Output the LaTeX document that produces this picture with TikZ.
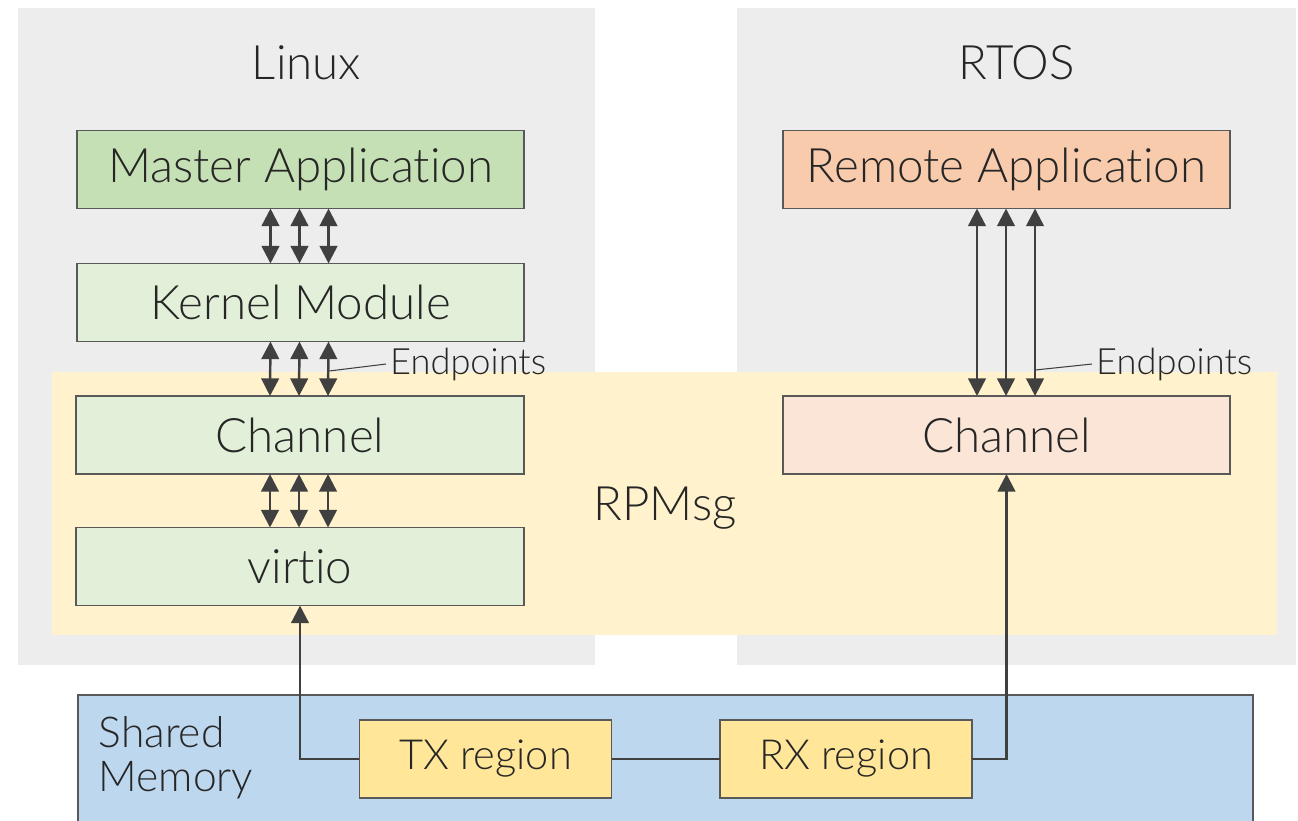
\documentclass[tikz,border=0pt]{standalone}
\usepackage{fontspec}
\setmainfont{Lato Light}[Ligatures={NoCommon,NoRare,NoContextual}, Contextuals=NoAlternate]
\usetikzlibrary{arrows.meta}
\definecolor{greybg}{HTML}{EDEDED}
\definecolor{rpm}{HTML}{FFF2CC}
\definecolor{green1}{HTML}{C5E0B4}
\definecolor{green2}{HTML}{E2F0D9}
\definecolor{orange1}{HTML}{F8CBAD}
\definecolor{orange2}{HTML}{FBE5D6}
\definecolor{shm}{HTML}{BDD7EE}
\definecolor{reg}{HTML}{FFE699}
\definecolor{edge}{HTML}{595959}
\definecolor{ink}{HTML}{404040}
\definecolor{txt}{HTML}{262626}
\begin{document}
\begin{tikzpicture}[x=0.01cm,y=-0.01cm,
 big/.style={font=\fontsize{13.5}{13.5}\selectfont, text=txt},
 small/.style={font=\fontsize{10.3}{12}\selectfont, text=txt, inner sep=1pt},
 box/.style={big, draw=edge, line width=0.5pt, inner sep=0pt, outer sep=0pt, minimum width=4.47cm, minimum height=0.78cm},
 regbox/.style={box, fill=reg, minimum width=2.52cm, font=\fontsize{11.8}{12}\selectfont},
 dar/.style={{Triangle[length=5pt,width=5pt]}-{Triangle[length=5pt,width=5pt]}, draw=ink, line width=0.7pt},
 sar/.style={-{Triangle[length=5pt,width=5pt]}, draw=ink, line width=0.7pt},
 conn/.style={draw=ink, line width=0.7pt},
 lead/.style={draw=ink, line width=0.3pt}]
\useasboundingbox (0,0) rectangle (1298,820);
\clip (0,0) rectangle (1298,820);
\fill[white] (0,0) rectangle (1298,820);
% backgrounds
\fill[greybg] (18,8) rectangle (595,665);
\fill[greybg] (737,8) rectangle (1296,665);
\fill[rpm] (52,372) rectangle (1277,635);
\draw[draw=edge, fill=shm, line width=0.5pt] (78,695) rectangle (1253,835);
% titles
\node[big] (linux) at (306.5,63) {Linux};
\node[big] (rtos) at (1016.5,63) {RTOS};
\node[big] (rpmsg) at (665,508) {RPMsg};
\node[big, font=\fontsize{12.1}{12.5}\selectfont, align=left, anchor=west, inner sep=0pt] (shmtxt) at (98,758) {Shared\\Memory};
% left stack
\node[box, fill=green1] (ma) at (300.5,169.5) {Master Applicat\kern0pt ion};
\node[box, fill=green2] (km) at (300.5,302.5) {Kernel Module};
\node[box, fill=green2] (ch1) at (300,435) {Channel};
\node[box, fill=green2] (vi) at (300,566.5) {virt\kern0pt io};
% right stack
\node[box, fill=orange1] (ra) at (1006.5,169.5) {Remote Applicat\kern0pt ion};
\node[box, fill=orange2] (ch2) at (1006.5,435) {Channel};
% shared memory regions
\node[regbox] (tx) at (485.5,759) {TX region};
\node[regbox] (rx) at (846,759) {RX region};
% left arrows
\foreach \o in {-0.30,-0.01,0.28}{
  \draw[dar] ([xshift=\o cm]ma.south) -- ([xshift=\o cm]km.north);
  \draw[dar] ([xshift=\o cm]km.south) -- ([xshift=\o cm]ch1.north);
}
\foreach \o in {-0.30,-0.01,0.28}{
  \draw[dar] ([xshift=\o cm]ch1.south) -- ([xshift=\o cm]vi.north);
}
% right arrows
\foreach \o in {-0.295,-0.005,0.285}{
  \draw[dar] ([xshift=\o cm]ra.south) -- ([xshift=\o cm]ch2.north);
}
% endpoints labels
\coordinate (e1) at (329,371);
\node[small, anchor=west] (ep1) at (386,364) {Endpoints};
\draw[lead] (e1) -- (ep1.west);
\coordinate (e2) at (1035,370);
\node[small, anchor=west] (ep2) at (1092,364) {Endpoints};
\draw[lead] (e2) -- (ep2.west);
% shared memory connectors
\draw[sar] (tx.west) -- (tx.west -| vi.south) -- (vi.south);
\draw[conn] (tx.east) -- (rx.west);
\draw[sar] (rx.east) -- (rx.east -| ch2.south) -- (ch2.south);
\end{tikzpicture}
\end{document}
